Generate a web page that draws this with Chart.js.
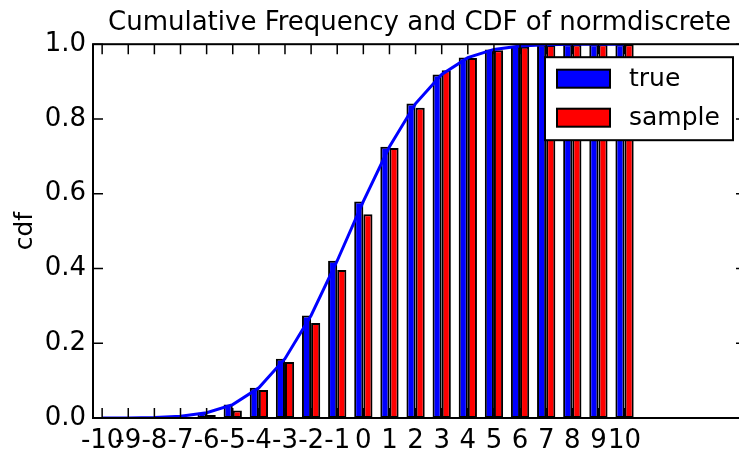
<!DOCTYPE html>
<html lang="en">
<head>
<meta charset="UTF-8">
<title>Cumulative Frequency and CDF of normdiscrete</title>
<script src="https://cdn.jsdelivr.net/npm/chart.js"></script>
<style>
  html, body { margin: 0; padding: 0; background: #fff; overflow: hidden; }
  #wrap { width: 760px; height: 453px; }
</style>
</head>
<body>
<div id="wrap"><canvas id="chart"></canvas></div>
<script>
// integer support of normdiscrete
const support = [-10, -9, -8, -7, -6, -5, -4, -3, -2, -1, 0, 1, 2, 3, 4, 5, 6, 7, 8, 9, 10];
const tickLabels = ['-10', '-9', '-8', '-7', '-6', '-5', '-4', '-3', '-2', '-1', '0',
  '1', '2', '3', '4', '5', '6', '7', '8', '9', '10'];
// true cdf (also used for the blue line)
const trueCdf = [0.0001, 0.0003, 0.0013, 0.0047, 0.0139, 0.0359, 0.0808, 0.1587, 0.2743, 0.4207, 0.5793,
  0.7257, 0.8413, 0.9192, 0.9641, 0.9861, 0.9953, 0.9987, 0.9997, 0.9999, 1.0];
// cumulative frequency of the sample
const sampleCdf = [0, 0, 0.001, 0.002, 0.008, 0.02, 0.075, 0.15, 0.254, 0.396, 0.545,
  0.722, 0.830, 0.930, 0.963, 0.984, 0.993, 0.998, 0.999, 1.0, 1.0];
const yTicks = [0, 0.2, 0.4, 0.6, 0.8, 1.0];

const font = 'DejaVu Sans';
const barWidth = 0.35;

// matplotlib style frame with ticks pointing inwards
const frameAndTicks = {
  id: 'frameAndTicks',
  afterDatasetsDraw(chart) {
    const { ctx, chartArea: a, scales: { x, y } } = chart;
    ctx.save();
    ctx.strokeStyle = '#000';
    ctx.lineWidth = 1.5;
    ctx.beginPath();
    x.ticks.forEach(t => {
      const px = x.getPixelForValue(t.value);
      ctx.moveTo(px, a.bottom); ctx.lineTo(px, a.bottom - 10);
      ctx.moveTo(px, a.top); ctx.lineTo(px, a.top + 10);
    });
    y.ticks.forEach(t => {
      const py = y.getPixelForValue(t.value);
      ctx.moveTo(a.left, py); ctx.lineTo(a.left + 10, py);
      ctx.moveTo(a.right, py); ctx.lineTo(a.right - 10, py);
    });
    ctx.stroke();
    ctx.lineWidth = 2;
    ctx.strokeRect(a.left, a.top, a.right - a.left, a.bottom - a.top);
    ctx.restore();
  }
};

// legend box inside the axes, upper right
const boxLegend = {
  id: 'boxLegend',
  afterDraw(chart) {
    const { ctx, chartArea: a } = chart;
    const bars = chart.data.datasets.filter(d => d.type === 'bar');
    const w = 188, h = 83;
    const left = a.right - 13 - w, top = a.top + 13;
    ctx.save();
    ctx.fillStyle = '#fff';
    ctx.fillRect(left, top, w, h);
    ctx.lineWidth = 2;
    ctx.strokeStyle = '#000';
    ctx.strokeRect(left, top, w, h);
    ctx.font = '25px "' + font + '"';
    ctx.textBaseline = 'middle';
    bars.forEach((d, i) => {
      const cy = top + 21.5 + i * 39;
      ctx.fillStyle = d.backgroundColor;
      ctx.fillRect(left + 12, cy - 9, 53, 18);
      ctx.strokeRect(left + 12, cy - 9, 53, 18);
      ctx.fillStyle = '#000';
      ctx.fillText(d.label, left + 84, cy + 1);
    });
    ctx.restore();
  }
};

new Chart(document.getElementById('chart'), {
  data: {
    datasets: [
      {
        type: 'line',
        label: 'cdf',
        data: support.map((k, i) => ({ x: k + barWidth, y: trueCdf[i] })),
        borderColor: '#0000ff',
        borderWidth: 3,
        pointRadius: 0,
        tension: 0,
        order: 0
      },
      {
        type: 'bar',
        label: 'true',
        data: support.map((k, i) => ({ x: k + barWidth, y: trueCdf[i] })),
        backgroundColor: '#0000ff',
        borderColor: '#000',
        borderWidth: 2,
        borderSkipped: false,
        categoryPercentage: 2 * barWidth,
        barPercentage: 1,
        order: 1
      },
      {
        type: 'bar',
        label: 'sample',
        data: support.map((k, i) => ({ x: k + barWidth, y: sampleCdf[i] })),
        backgroundColor: '#ff0000',
        borderColor: '#000',
        borderWidth: 2,
        borderSkipped: false,
        categoryPercentage: 2 * barWidth,
        barPercentage: 1,
        order: 1
      }
    ]
  },
  options: {
    responsive: true,
    maintainAspectRatio: false,
    animation: false,
    layout: { padding: { left: 0, right: 14, top: 0, bottom: 0 } },
    plugins: {
      legend: { display: false },
      tooltip: { enabled: false },
      title: {
        display: true,
        fullSize: false,
        text: 'Cumulative Frequency and CDF of normdiscrete',
        color: '#000',
        font: { family: font, size: 26, weight: 'normal' },
        padding: { top: 8, bottom: 5 }
      }
    },
    scales: {
      x: {
        type: 'linear',
        min: -10,
        max: 15,
        offset: false,
        grid: { display: false, drawTicks: false },
        border: { display: false },
        afterBuildTicks: s => { s.ticks = support.map(k => ({ value: k + barWidth })); },
        afterFit: s => { s.height = 35; },
        ticks: {
          autoSkip: false,
          maxRotation: 0,
          padding: 8,
          color: '#000',
          font: { family: font, size: 26 },
          callback: (v, i) => tickLabels[i]
        }
      },
      y: {
        min: 0,
        max: 1,
        grid: { display: false, drawTicks: false },
        border: { display: false },
        afterBuildTicks: s => { s.ticks = yTicks.map(v => ({ value: v })); },
        afterFit: s => { s.width = 93; },
        ticks: {
          padding: 7,
          color: '#000',
          font: { family: font, size: 26 },
          callback: v => v.toFixed(1)
        },
        title: {
          display: true,
          text: 'cdf',
          color: '#000',
          font: { family: font, size: 25 },
          padding: { top: 10 }
        }
      }
    }
  },
  plugins: [frameAndTicks, boxLegend]
});
</script>
</body>
</html>
